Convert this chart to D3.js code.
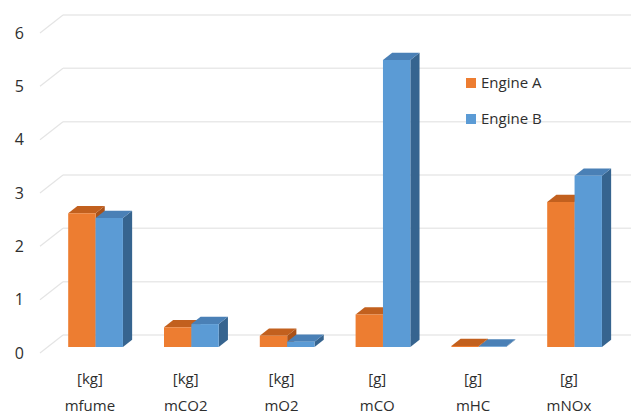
<!DOCTYPE html>
<html>
<head>
<meta charset="utf-8">
<script src="https://cdn.jsdelivr.net/npm/d3@7"></script>
<style>
  html, body { margin: 0; padding: 0; background: #fff; }
  svg { display: block; }
  text { font-family: "Open Sans", "DejaVu Sans", sans-serif; fill: #2e2e2e; }
</style>
</head>
<body>
<svg id="chart" width="631" height="417"></svg>
<script>
// Emission quantities per test, two engines
const categories = ["mfume", "mCO2", "mO2", "mCO", "mHC", "mNOx"];
const units = ["[kg]", "[kg]", "[kg]", "[g]", "[g]", "[g]"];
const seriesNames = ["Engine A", "Engine B"];
const engineA = [2.51, 0.37, 0.21, 0.61, 0.02, 2.72];
const engineB = [2.42, 0.43, 0.10, 5.38, 0.01, 3.21];
const tickValues = [0, 1, 2, 3, 4, 5, 6];

const series = [
  { name: seriesNames[0], values: engineA, front: "#ED7D31", top: "#C2601E", side: "#A9521A" },
  { name: seriesNames[1], values: engineB, front: "#5B9BD5", top: "#4A80B6", side: "#36648F" }
];

const svg = d3.select("#chart");

// Oblique projection: front floor corner, and full depth offset of the walls
const origin = { x: 40, y: 353 };
const depth = { dx: 23, dy: -18 };
const plotW = 574.8;

const x0 = d3.scaleBand().domain(categories).range([0, plotW]);
const x1 = d3.scaleBand().domain(seriesNames).range([0, x0.bandwidth()])
  .paddingInner(0).paddingOuter(0.75);
const y = d3.scaleLinear().domain([0, 6]).range([0, 320]);

// screen point from (x along floor, value, depth fraction t)
function P(xv, v, t) {
  return [origin.x + xv + t * depth.dx, origin.y + t * depth.dy - y(v)];
}

const grid = svg.append("g");
// back wall gridlines and their diagonal side-wall continuations
tickValues.forEach(v => {
  const a = P(0, v, 0), b = P(0, v, 1), c = P(plotW + 40, v, 1);
  grid.append("path")
    .attr("d", d3.line()([a, b]))
    .attr("stroke", "#e4e4e4").attr("stroke-width", 1.2).attr("fill", "none");
  grid.append("path")
    .attr("d", d3.line()([b, c]))
    .attr("stroke", "#e9e9e9").attr("stroke-width", 1.5).attr("fill", "none");
});

// value axis labels at the front edge of the side wall
svg.append("g").selectAll("text").data(tickValues).join("text")
  .attr("x", 24)
  .attr("y", v => P(0, v, 0)[1])
  .attr("dy", "0.35em")
  .attr("text-anchor", "end")
  .attr("font-size", 16)
  .text(d => d);

// 3D columns
const tFront = 1 / 3, tBack = 1 / 3 + 0.4;
const line = d3.line();
const bars = svg.append("g");
categories.forEach((cat, i) => {
  series.forEach(s => {
    const v = s.values[i];
    const xl = x0(cat) + x1(s.name);
    const xr = xl + x1.bandwidth();
    const g = bars.append("g");
    // side face
    g.append("path")
      .attr("d", line([P(xr, 0, tFront), P(xr, 0, tBack), P(xr, v, tBack), P(xr, v, tFront)]) + "Z")
      .attr("fill", s.side);
    // top face
    g.append("path")
      .attr("d", line([P(xl, v, tFront), P(xr, v, tFront), P(xr, v, tBack), P(xl, v, tBack)]) + "Z")
      .attr("fill", s.top);
    // front face
    g.append("path")
      .attr("d", line([P(xl, 0, tFront), P(xr, 0, tFront), P(xr, v, tFront), P(xl, v, tFront)]) + "Z")
      .attr("fill", s.front);
  });
});

// category labels: unit and quantity name
const labels = svg.append("g");
categories.forEach((cat, i) => {
  const cx = origin.x + x0(cat) + x0.bandwidth() / 2 + 2;
  labels.append("text")
    .attr("x", cx).attr("y", 379).attr("dy", "0.35em")
    .attr("text-anchor", "middle").attr("font-size", 15)
    .text(units[i]);
  labels.append("text")
    .attr("x", cx).attr("y", 406).attr("dy", "0.35em")
    .attr("text-anchor", "middle").attr("font-size", 15)
    .text(cat);
});

// legend
const legend = svg.append("g");
series.forEach((s, i) => {
  const ly = 83 + i * 36;
  legend.append("rect")
    .attr("x", 466).attr("y", ly - 5).attr("width", 10).attr("height", 10)
    .attr("fill", s.front);
  legend.append("text")
    .attr("x", 481).attr("y", ly).attr("dy", "0.35em")
    .attr("font-size", 15)
    .text(s.name);
});
</script>
</body>
</html>
